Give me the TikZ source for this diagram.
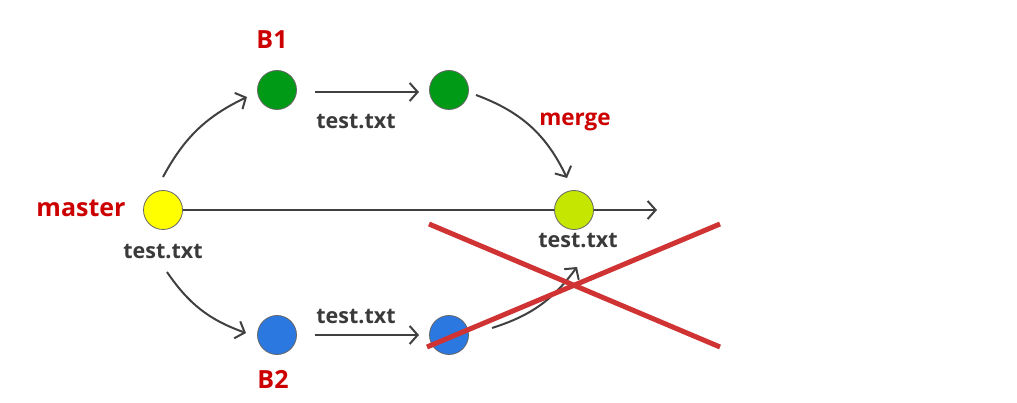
\documentclass[tikz,border=0pt]{standalone}
\usepackage{fontspec}
\setmainfont{Open Sans}
\usetikzlibrary{arrows.meta,backgrounds}
\definecolor{lineg}{HTML}{404040}
\definecolor{redtxt}{HTML}{CC0000}
\definecolor{redx}{HTML}{D03333}
\definecolor{cyel}{HTML}{FFFF00}
\definecolor{cgreen}{HTML}{009A17}
\definecolor{cblue}{HTML}{2B78E0}
\definecolor{clime}{HTML}{C5E600}
\tikzset{
  commit/.style={circle, draw=lineg!80, line width=0.8pt, minimum size=39pt, inner sep=0pt},
  conn/.style={draw=lineg, line width=2pt, -{Straight Barb[length=8pt,width=18pt,line width=2pt]}},
  lbl/.style={font=\fontsize{21.5}{24}\selectfont\bfseries, text=lineg!90!black, inner sep=0pt},
  rlbl/.style={font=\fontsize{25}{28}\selectfont\bfseries, text=redtxt, inner sep=0pt},
  cross/.style={draw=redx, line width=5pt}
}
\begin{document}
\begin{tikzpicture}[x=1pt,y=-1pt]
\useasboundingbox (0,0) rectangle (1017,403);
% commits
\node[commit, fill=cyel] (m) at (163,210) {};
\node[commit, fill=cgreen] (g1) at (277,90) {};
\node[commit, fill=cgreen] (g2) at (449,90) {};
\node[commit, fill=clime] (mg) at (574,210) {};
\node[commit, fill=cblue] (b1) at (277,335) {};
\node[commit, fill=cblue] (b2) at (449,335) {};
% labels
\node[rlbl] (lB1) at (272,40) {B1};
\node[rlbl] (lB2) at (273,379) {B2};
\node[rlbl] (lmaster) at (81,208) {master};
\node[rlbl, font=\fontsize{22.5}{25}\selectfont\bfseries] (lmerge) at (575,122) {merge};
\node[lbl] (t0) at (163,252) {test.txt};
\node[lbl] (t1) at (356,122) {test.txt};
\node[lbl] (t2) at (356,317) {test.txt};
\node[lbl] (t3) at (578,241) {test.txt};
% connector end points
\coordinate (s1) at (163,177);
\coordinate (e1) at (247,97);
\coordinate (s2) at (167,272);
\coordinate (e2) at (246,333);
\coordinate (s3) at (315,92);
\coordinate (e3) at (419,92);
\coordinate (s4) at (315,335);
\coordinate (e4) at (419,335);
\coordinate (s5) at (476,95);
\coordinate (e5) at (567,178);
\coordinate (s6) at (492,328);
\coordinate (e6) at (577,267);
\coordinate (mend) at (657,210);
\coordinate (x1a) at (429,224);
\coordinate (x1b) at (720,347);
\coordinate (x2a) at (427,347);
\coordinate (x2b) at (720,224);
% connectors
\begin{scope}[on background layer]
\draw[conn] (m.east) -- (mend);
\end{scope}
\draw[conn] (s1) to[bend left=18] (e1);
\draw[conn] (s2) to[bend right=18] (e2);
\draw[conn] (s3) -- (e3);
\draw[conn] (s4) -- (e4);
\draw[conn] (s5) to[bend left=22] (e5);
\draw[conn] (s6) to[bend right=18] (e6);
% cross
\draw[cross] (x1a) -- (x1b);
\draw[cross] (x2a) -- (x2b);
\end{tikzpicture}
\end{document}
